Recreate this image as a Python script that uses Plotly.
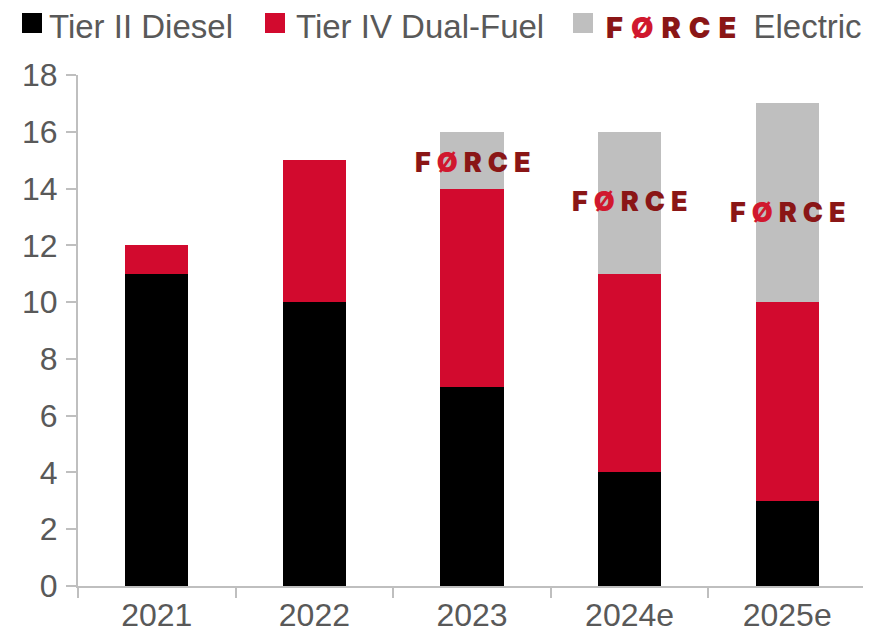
import plotly.graph_objects as go

categories = ["2021", "2022", "2023", "2024e", "2025e"]
tier2_diesel = [11, 10, 7, 4, 3]
tier4_dual_fuel = [1, 5, 7, 7, 7]
force_electric = [0, 0, 2, 5, 7]
y_ticks = [0, 2, 4, 6, 8, 10, 12, 14, 16, 18]
logo_categories = ["2023", "2024e", "2025e"]
logo_values = [14.93, 13.56, 13.14]
series_names = ["Tier II Diesel", "Tier IV Dual-Fuel", "Electric"]
series_colors = ["#000000", "#d20a2e", "#bfbfbf"]

FONT = "Liberation Sans, Arial, sans-serif"
TXT = "#595959"
AXC = "#bfbfbf"

# page body has an 8px default margin: size the figure to fit the window
OFF = 8
W, H = 871 - OFF, 637 - OFF
L, R, T, B = 78 - OFF, 5, 75 - OFF, 51
PW, PH = W - L - R, H - T - B


def px_x(px):
    return (px - OFF - L) / PW


def px_y(py):
    return (H - B - (py - OFF)) / PH


def force_logo(spacing):
    st = f"font-family:Inter, DejaVu Sans;font-weight:900;letter-spacing:{spacing}px;"
    return (f"<span style='{st}color:#8a1616'>F</span>"
            f"<span style='{st}color:#d0182e'>Ø</span>"
            f"<span style='{st}color:#8a1616'>RCE</span>")


fig = go.Figure()
for vals, name, col in zip([tier2_diesel, tier4_dual_fuel, force_electric],
                           series_names, series_colors):
    fig.add_trace(go.Bar(x=categories, y=vals, name=name,
                         marker=dict(color=col, line=dict(width=0)), width=0.4))

for c, v in zip(logo_categories, logo_values):
    fig.add_annotation(x=categories.index(c), y=v, text=force_logo(6),
                       showarrow=False, xanchor="center", yanchor="middle",
                       xshift=3, font=dict(size=27))

# manual legend
legend_squares = [(22, 13), (265, 13), (573, 13)]
for (sx, sy), col in zip(legend_squares, series_colors):
    fig.add_shape(type="rect", xref="paper", yref="paper",
                  x0=px_x(sx), x1=px_x(sx + 20), y0=px_y(sy + 20), y1=px_y(sy),
                  fillcolor=col, line=dict(width=0))
legend_texts = [(48, series_names[0]), (295, series_names[1]),
                (605, force_logo(8) + "<span style='font-size:33px'> " + series_names[2] + "</span>")]
for i, (tx, txt) in enumerate(legend_texts):
    fig.add_annotation(xref="paper", yref="paper", x=px_x(tx), y=px_y(26),
                       text=txt, showarrow=False, xanchor="left", yanchor="middle",
                       borderpad=0,
                       font=dict(size=29 if i == 2 else 33, color=TXT, family=FONT))

fig.update_layout(
    barmode="stack",
    width=W, height=H,
    margin=dict(l=L, r=R, t=T, b=B),
    paper_bgcolor="white", plot_bgcolor="white",
    font=dict(family=FONT, color=TXT, size=32),
    showlegend=False,
    xaxis=dict(type="category", range=[-0.5, 4.5], showline=True, linecolor=AXC,
               linewidth=2, ticks="outside", tickson="boundaries", ticklen=10,
               tickcolor=AXC, tickwidth=2, showgrid=False, automargin=False,
               tickfont=dict(size=32, color=TXT)),
    yaxis=dict(range=[0, 18], tickvals=y_ticks, showline=True, linecolor=AXC,
               linewidth=2, ticks="outside", ticklen=10, tickcolor=AXC, tickwidth=2,
               showgrid=False, zeroline=False, automargin=False,
               ticklabelstandoff=2, tickfont=dict(size=32, color=TXT)),
)

fig.write_html("out.html")
